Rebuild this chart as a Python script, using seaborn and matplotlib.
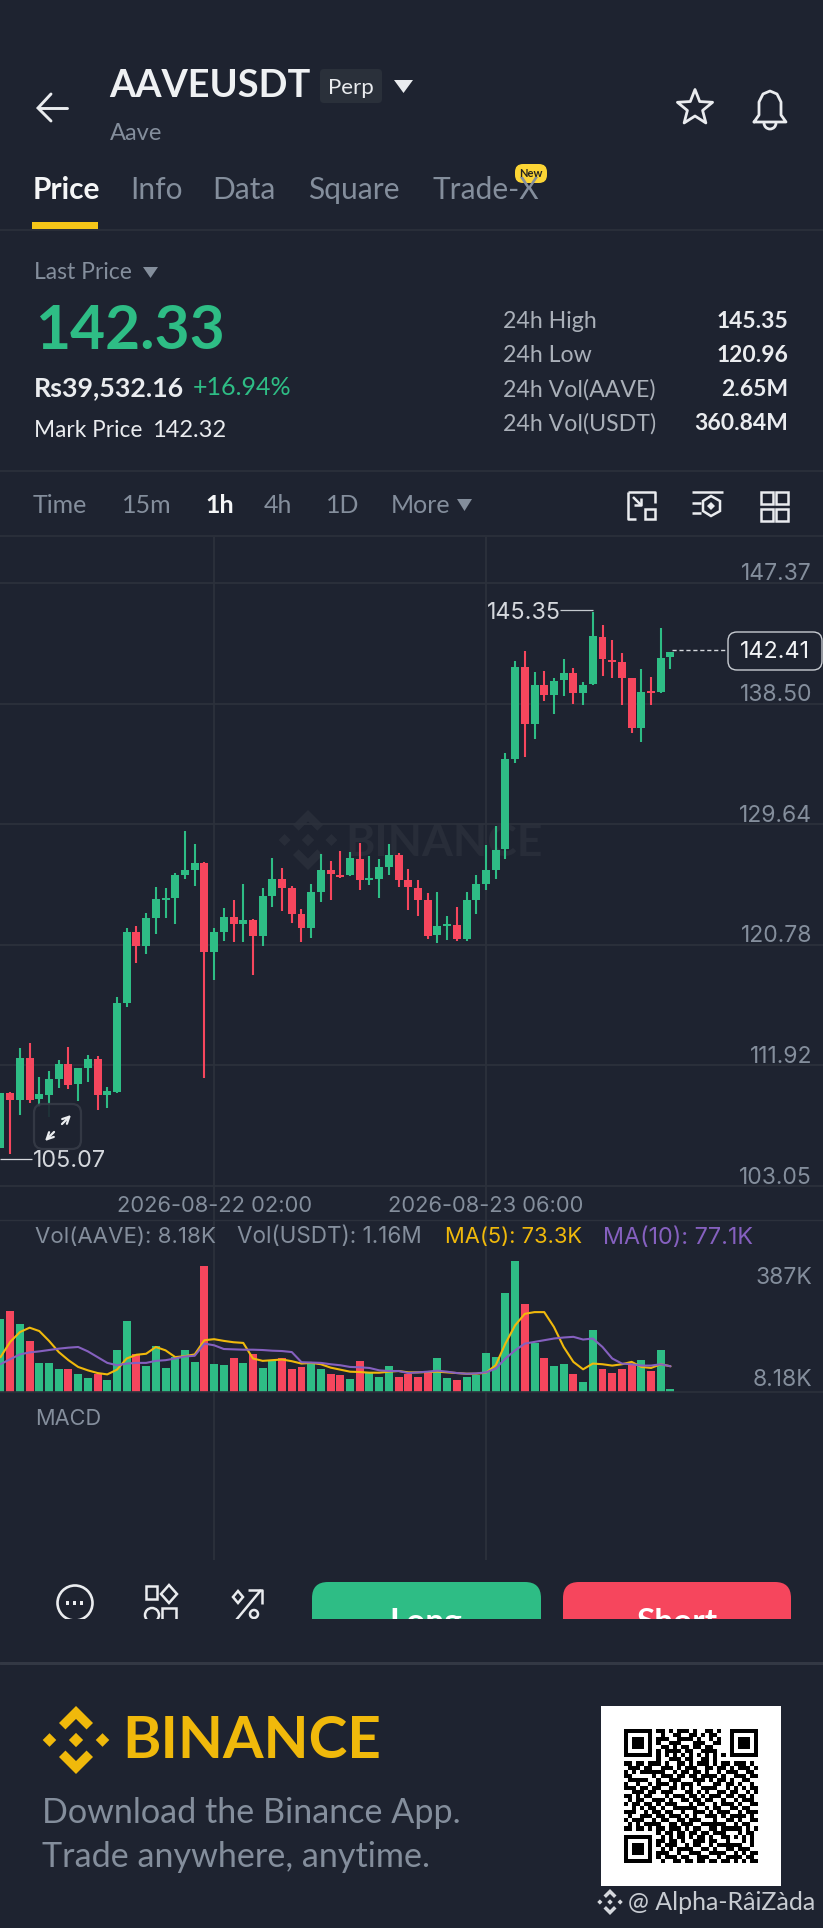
import numpy as np
import pandas as pd
import matplotlib
matplotlib.use("Agg")
import matplotlib.pyplot as plt
from matplotlib.patches import FancyBboxPatch, Polygon, Rectangle, Circle, Arc
from matplotlib.transforms import ScaledTranslation
import seaborn as sns

# ---------- data ----------
opens = [105.82,109.86,109.37,112.46,109.42,109.76,110.91,112.02,110.52,111.75,112.41,109.71,109.98,116.48,121.72,120.71,122.77,124.09,124.22,125.93,
         126.28,126.77,120.27,121.74,122.85,122.28,122.60,121.45,124.36,125.64,124.98,123.04,122.01,124.68,126.27,125.93,125.91,127.08,125.54,125.61,
         126.50,127.38,125.52,124.98,124.07,121.47,122.18,122.23,121.18,124.07,125.25,126.30,127.79,134.43,141.22,137.03,139.85,139.14,140.22,140.75,
         139.26,139.92,143.43,141.73,141.54,140.36,136.74,139.38,139.33,141.90]
closes = [109.86,109.37,112.46,109.37,109.79,110.89,112.02,110.47,111.70,112.41,109.74,110.03,116.48,121.72,120.69,122.75,124.12,124.24,125.91,126.28,
          126.77,120.27,121.72,122.85,122.31,122.60,121.45,124.34,125.61,124.93,123.04,122.01,124.68,126.27,125.96,125.74,127.13,125.54,125.69,126.47,
          127.38,125.54,125.00,124.07,121.45,122.16,122.31,121.18,124.07,125.25,126.30,127.75,134.43,141.22,137.03,139.85,139.14,140.19,140.75,139.26,
          139.87,143.45,141.78,141.59,140.36,136.74,139.38,139.26,141.88,142.30]
highs = [109.86,109.98,113.17,113.58,111.09,111.50,112.31,113.29,111.70,112.65,112.63,110.30,116.97,121.99,122.16,123.14,125.05,124.93,126.08,129.17,
         128.19,126.84,121.99,123.51,124.07,125.22,122.67,124.95,127.13,126.45,125.10,123.41,125.25,127.45,126.96,127.70,127.57,128.28,127.30,127.08,
         128.19,127.50,126.35,125.54,124.61,124.68,122.92,123.53,124.63,125.91,128.11,129.51,134.90,141.66,142.40,140.80,140.93,140.36,141.76,141.10,
         140.12,145.26,144.28,143.16,142.20,140.41,141.07,140.44,144.06,142.32]
lows = [105.82,105.40,108.27,109.17,108.83,108.15,110.28,110.15,109.30,110.67,108.63,108.81,109.86,116.23,119.46,120.08,121.55,122.77,122.31,125.59,
        125.12,110.96,118.17,121.08,120.98,121.01,118.56,120.69,123.58,123.29,122.36,120.96,121.25,123.92,124.07,125.66,125.83,124.81,125.17,124.19,
        125.88,125.00,123.31,122.92,121.23,120.93,121.13,121.08,121.08,123.04,124.81,125.59,127.11,134.14,134.58,135.90,138.72,137.72,139.04,138.50,
        138.43,139.85,140.53,140.36,138.43,136.34,135.68,138.40,139.31,141.05]
volume = [217,238,200,151,86,86,67,68,52,42,54,34,125,209,113,78,135,72,103,125,90,371,84,79,101,86,113,72,94,100,68,74,84,68,54,49,39,91,59,44,77,44,54,
          44,62,100,40,34,44,50,115,103,291,387,261,145,99,78,82,52,29,182,67,56,68,82,94,61,123,8.18]
ma5 = [103,148,177,190,180,151,118,94,74,64,56,52,66,99,110,113,133,123,103,106,111,153,156,151,147,145,99,92,94,96,91,84,86,82,72,66,60,59,57,57,60,62,58,
       58,59,60,58,56,54,54,57,79,143,197,231,236,236,192,133,89,67,84,82,78,82,89,74,71,82,76]
ma10 = [82,97,111,117,120,124,128,131,133,120,103,86,79,84,86,86,92,94,99,105,107,143,138,127,126,125,125,124,122,121,118,88,87,86,82,79,74,73,71,64,62,62,56,
        58,60,63,60,56,54,55,58,69,99,123,143,148,153,158,161,163,155,158,133,99,84,82,78,78,82,76]
price_ticks = [103.05, 111.92, 120.78, 129.64, 138.50, 147.37]
price_labels = ["103.05", "111.92", "120.78", "129.64", "138.50", "147.37"]
date_pos = [22, 50]
date_labels = ["2026-08-22 02:00", "2026-08-23 06:00"]
vol_ticks = [8.18, 387]
vol_labels = ["8.18K", "387K"]
LAST, HIGH, LOW = 142.41, 145.35, 105.07
stat_names = ["24h High", "24h Low", "24h Vol(AAVE)", "24h Vol(USDT)"]
stat_values = ["145.35", "120.96", "2.65M", "360.84M"]
tabs = ["Price", "Info", "Data", "Square", "Trade-X"]
intervals = ["Time", "15m", "1h", "4h", "1D", "More"]

QR_TOP = ["0110101110100110100", "0010011001101011000", "0111001111010010100", "0100111000111001100",
          "0011010110110110000", "0101111011001111000", "0101010101010101010"]
QR_MID = ["00000000100111011001101" + "0000000000",
 "110110111010011010111010110111010", "011101100111010111001101101011101", "101011111100101101101001011100110",
 "110000010111011011011110100111011", "011111001001110001110101101001100", "100100101110101110100011011010010",
 "111011011001101010011110010101011", "001110110111000110101001101100101", "110101100010111011010111011011010",
 "010110011101001101101100100101110", "101101101011100010110010111010011", "001010110100111111001011001101100",
 "111001011011001001110101110010111", "010011101101110101001110101111010", "101110010110011011100010011010011",
 "010101111001101110011111100101100", "110110101101110101100110111110101",
 "000000001011011011011011100010110"]
QR_BOT = ["0101011010110100110101010" , "1101101001110110010001010" + "", "1011100101100101111110010",
          "0101011110011010011011100", "1110010011100111100101011", "1011101100111001011110110",
          "0100110110110110110101011"]

BG = "#1e2330"
GREEN, RED = "#2ebd85", "#f6465d"
GREY = "#848e9c"
WHITE = "#eaecef"
GRID = "#2c313c"
YEL = "#f0b90b"
PURPLE = "#8560bf"
W, H = 823, 1928
STEP = 9.71
AXIS_FS = 16.5

sns.set_theme(style="dark")
plt.rcParams["font.family"] = ["Lato", "DejaVu Sans"]
plt.rcParams["axes.unicode_minus"] = False

fig = plt.figure(figsize=(W / 100, H / 100), dpi=100, facecolor=BG)

def band(top, bot):
    return [0, 1 - bot / H, 1, (bot - top) / H]

def nudge(tick, px):
    tick.label2.set_transform(tick.label2.get_transform() + ScaledTranslation(0, -px / 100, fig.dpi_scale_trans))

back = fig.add_axes([0, 0, 1, 1], zorder=0)
back.set_xlim(0, W); back.set_ylim(H, 0); back.axis("off")
ui = fig.add_axes([0, 0, 1, 1], zorder=10)
ui.set_xlim(0, W); ui.set_ylim(H, 0); ui.axis("off"); ui.patch.set_alpha(0)

xlim = (-0.05, W / STEP - 0.05)
PX_PER_PRICE = 13.606
ax = fig.add_axes(band(537, 1220), zorder=2)
ax.patch.set_alpha(0)
vol = fig.add_axes(band(1220, 1392), zorder=2)
vol.patch.set_alpha(0)
mac = fig.add_axes(band(1392, 1560), zorder=2)
mac.patch.set_alpha(0)

# ---------- candles ----------
df = pd.DataFrame({"i": np.arange(len(opens)), "o": opens, "c": closes, "h": highs, "l": lows,
                   "v": volume, "ma5": ma5, "ma10": ma10})
df["up"] = df.c >= df.o
df["bot"] = df[["o", "c"]].min(axis=1)
df["size"] = (df.c - df.o).abs().clip(lower=0.14)

for up, col in [(True, GREEN), (False, RED)]:
    d = df[df.up == up]
    ax.vlines(d.i, d.l, d.h, color=col, lw=1.5, zorder=3)
    sns.barplot(data=d, x="i", y="size", bottom=d["bot"].values, native_scale=True, color=col, saturation=1,
                width=0.82, errorbar=None, linewidth=0, ax=ax, zorder=4)
    sns.barplot(data=d, x="i", y="v", native_scale=True, color=col, saturation=1,
                width=0.82, errorbar=None, linewidth=0, ax=vol, zorder=2)

ax.set_xlim(*xlim)
ax.set_ylim(103.05 - 34 / PX_PER_PRICE, 103.05 + (1186 - 537) / PX_PER_PRICE)
ax.set_xlabel(""); ax.set_ylabel("")
ax.yaxis.tick_right()
ax.set_yticks(price_ticks); ax.set_yticklabels(price_labels, family=["Inter", "DejaVu Sans"], fontsize=AXIS_FS, color=GREY, ha="right", va="bottom")
ax.tick_params(axis="y", length=0, pad=-7.9, labelright=True, labelleft=False)
for tk in ax.yaxis.get_major_ticks():
    nudge(tk, 2.5)
ax.set_xticks(date_pos); ax.set_xticklabels(date_labels, family=["Inter", "DejaVu Sans"], fontsize=15.8, color=GREY)
ax.tick_params(axis="x", length=0, pad=-17.5)
ax.grid(True, color=GRID, lw=1.3, zorder=0)
ax.set_axisbelow(True)
for s in ax.spines.values():
    s.set_visible(False)
ax.spines["bottom"].set_visible(True); ax.spines["bottom"].set_color(GRID); ax.spines["bottom"].set_linewidth(1.0)

# markers on the price pane
lab = dict(color="#d5d8dd", fontsize=16.8, family=["Inter", "DejaVu Sans"], va="center_baseline", zorder=6)
ax.hlines(HIGH, 57.65, 61, color="#c5c9cf", lw=0.9, zorder=5)
ax.text(57.75, HIGH, f"{HIGH:.2f}", ha="right", **lab)
ax.hlines(LOW, -0.05, 3.25, color="#d5d8dd", lw=0.9, zorder=5)
ax.text(3.35, LOW, f"{LOW:.2f}", ha="left", **lab)
ax.hlines(LAST, 69.2, 75, color="#d5d8dd", lw=1.0, linestyles=(0, (3, 2)), zorder=5)

# ---------- volume ----------
sns.lineplot(data=df, x="i", y="ma5", color=YEL, lw=1.5, ax=vol, zorder=5)
sns.lineplot(data=df, x="i", y="ma10", color=PURPLE, lw=1.5, ax=vol, zorder=5)
vol.set_xlim(*xlim)
vol.set_ylim(0, (1392 - 1220) / (131 / 387))
vol.set_xlabel(""); vol.set_ylabel("")
vol.yaxis.tick_right()
vol.set_yticks(vol_ticks); vol.set_yticklabels(vol_labels, family=["Inter", "DejaVu Sans"], fontsize=AXIS_FS, color=GREY, ha="right")
vol.get_yticklabels()[0].set_va("bottom"); vol.get_yticklabels()[1].set_va("top")
vol.tick_params(axis="y", length=0, pad=-7.9, labelright=True, labelleft=False)
for tk, off in zip(vol.yaxis.get_major_ticks(), [1.5, 6.0]):
    tk.label2.set_va("bottom" if off < 3 else "top")
    nudge(tk, off)
vol.set_xticks(date_pos); vol.set_xticklabels([])
vol.tick_params(axis="x", length=0)
vol.grid(True, axis="x", color=GRID, lw=1.3); vol.set_axisbelow(True)
for s in vol.spines.values():
    s.set_visible(False)
vol.spines["bottom"].set_visible(True); vol.spines["bottom"].set_color(GRID); vol.spines["bottom"].set_linewidth(1.2)

mac.set_xlim(*xlim); mac.set_ylim(0, 1); mac.set_yticks([])
mac.set_xticks(date_pos); mac.set_xticklabels([]); mac.tick_params(axis="x", length=0)
mac.grid(True, axis="x", color=GRID, lw=1.3)
for s in mac.spines.values():
    s.set_visible(False)

def T(x, y, s, size=15, color=GREY, ha="left", weight="normal", fam=None, a=ui, **kw):
    return a.text(x, y + 0.09 * size, s, fontsize=size, color=color, ha=ha, va="center", weight=weight,
                  family=fam or ["Lato", "DejaVu Sans"], **kw)

INTER = ["Inter", "DejaVu Sans"]
T(35, 1236, "Vol(AAVE): 8.18K", 16, GREY, fam=INTER)
T(237, 1236, "Vol(USDT): 1.16M", 16.2, GREY, fam=INTER)
T(445, 1236, "MA(5): 73.3K", 15.8, YEL, fam=INTER)
T(603, 1236, "MA(10): 77.1K", 16.8, PURPLE, fam=INTER)
T(35, 1418, "MACD", 15.7, GREY, fam=INTER)

# price tag
ui.add_patch(FancyBboxPatch((730, 634), 90, 34, boxstyle="round,pad=2,rounding_size=9", fc=BG, ec="#c8ccd2", lw=1.0))
T(775, 650, f"{LAST:.2f}", 16.8, "#f2f3f5", ha="center", fam=INTER)

# expand button
ui.add_patch(FancyBboxPatch((36, 1106), 43, 41, boxstyle="round,pad=2,rounding_size=9", fc=BG, ec="#363b47", lw=1.6, alpha=0.9))
ui.annotate("", xy=(73, 1113), xytext=(60, 1126), arrowprops=dict(arrowstyle="->", color=WHITE, lw=1.6, mutation_scale=12))
ui.annotate("", xy=(43, 1143), xytext=(56, 1130), arrowprops=dict(arrowstyle="->", color=WHITE, lw=1.6, mutation_scale=12))

# ---------- logo ----------
def logo(a, cx, cy, R, col, **kw):
    chev = [(0, 1), (.5, .5), (.31, .31), (0, .62), (-.31, .31), (-.5, .5)]
    dia = lambda x0, r: [(x0 + r, 0), (x0, r), (x0 - r, 0), (x0, -r)]
    for pts in [chev, [(x, -y) for x, y in chev], dia(0, .21), dia(-.78, .2), dia(.78, .2)]:
        a.add_patch(Polygon([(cx + x * R, cy - y * R) for x, y in pts], closed=True, fc=col, ec="none", **kw))

logo(back, 308, 840, 30, "#282d39")
T(345, 840, "BINANCE", 32, "#282d39", weight="bold", a=back)

# ---------- header ----------
ui.plot([39, 67], [108, 108], color=WHITE, lw=2.1)
ui.plot([51, 38, 51], [94, 108, 121], color=WHITE, lw=2.1, solid_joinstyle="miter")
T(109, 84, "AAVEUSDT", 27.3, "#eff1f3", weight="bold")
ui.add_patch(FancyBboxPatch((322, 71), 58, 30, boxstyle="round,pad=2,rounding_size=4", fc="#2a303a", ec="none"))
T(351, 87, "Perp", 16, WHITE, ha="center")
ui.add_patch(Polygon([(394, 80), (413, 80), (403.5, 93)], fc=WHITE, ec="none"))
T(110, 132, "Aave", 17, GREY)
ang = np.deg2rad(90 + 36 * np.arange(10))
rad = np.where(np.arange(10) % 2 == 0, 18.5, 8)
ui.add_patch(Polygon(np.c_[695 + rad * np.cos(ang), 108 - rad * np.sin(ang)], closed=True, fc="none", ec=WHITE, lw=2, joinstyle="round"))
bell_x = [754, 759, 759, 763, 770, 777, 781, 781, 786, 754]
bell_y = [122, 115, 102, 94, 91, 94, 102, 115, 122, 122]
ui.plot(bell_x, bell_y, color=WHITE, lw=2, solid_joinstyle="round")
ui.add_patch(Arc((770, 123), 12, 12, theta1=0, theta2=180, ec=WHITE, lw=2))

tab_x = [33, 130, 212, 308, 433]
for i, (x, s) in enumerate(zip(tab_x, tabs)):
    T(x, 188, s, 21.5, "#f5f6f7" if i == 0 else GREY, weight="bold" if i == 0 else "normal")
ui.add_patch(FancyBboxPatch((517, 166), 28, 15, boxstyle="round,pad=2,rounding_size=8", fc="#fcd535", ec="none"))
T(531, 173, "New", 8, "#222222", ha="center", weight="bold")
ui.add_patch(Rectangle((32, 222), 66, 7, fc="#f5c518", ec="none"))
ui.plot([0, W], [229.5, 229.5], color=GRID, lw=1.2)

T(34, 271, "Last Price", 16.5, GREY)
ui.add_patch(Polygon([(143, 267), (158, 267), (150.5, 278)], fc=GREY, ec="none"))
T(35, 327, "142.33", 43.6, GREEN, weight="bold")
T(34, 386, "Rs39,532.16", 19.3, WHITE, weight="bold")
T(193, 386, "+16.94%", 18, GREEN)
T(34, 429, "Mark Price", 16.3, WHITE)
T(152, 429, "142.32", 17, WHITE)
for y, n, v in zip([320, 354, 388, 422], stat_names, stat_values):
    T(503, y, n, 16.7, "#aab0b9")
    T(788, y, v, 16.5, WHITE, ha="right", weight="bold")

ui.plot([0, W], [471, 471], color=GRID, lw=1.2)
ui.plot([0, W], [536, 536], color=GRID, lw=1.2)
for x, s in zip([33, 122, 205, 264, 326, 391], intervals):
    T(x, 504, s, 18, "#f5f6f7" if s == "1h" else GREY, weight="bold" if s == "1h" else "normal")
ui.add_patch(Polygon([(457, 499), (472, 499), (464.5, 511)], fc=GREY, ec="none"))

# toolbar icons
ic = dict(color=WHITE, lw=1.8, solid_capstyle="butt")
ui.plot([628, 655, 655], [492, 492, 503], **ic)
ui.plot([628, 628, 636], [492, 519, 519], **ic)
ui.add_patch(Rectangle((645, 509), 10, 10, fc="none", ec=WHITE, lw=1.8))
ui.plot([633, 641], [497, 505], **ic)
ui.plot([634, 641, 641], [505, 505, 498], **ic)
ui.plot([692, 723], [492, 492], **ic)
ui.plot([692, 701], [503, 503], **ic); ui.plot([692, 701], [513, 513], **ic)
ui.add_patch(Polygon([(711, 496), (720, 501), (720, 511), (711, 516), (703, 511), (703, 501)], fc="none", ec=WHITE, lw=1.8))
ui.add_patch(Polygon([(711, 502), (715, 506), (711, 510), (707, 506)], fc=WHITE, ec="none"))
for x in (761, 776):
    for y in (492, 509):
        ui.add_patch(Rectangle((x, y), 12, 12, fc="none", ec=WHITE, lw=1.8))

# ---------- bottom action bar (clipped) ----------
clip = Rectangle((0, 1500), W, 119, transform=ui.transData)
items = []
items.append(FancyBboxPatch((312, 1582), 229, 80, boxstyle="round,pad=0,rounding_size=16", fc=GREEN, ec="none"))
items.append(FancyBboxPatch((563, 1582), 228, 80, boxstyle="round,pad=0,rounding_size=16", fc=RED, ec="none"))
items.append(Circle((75, 1603), 17.5, fc="none", ec=WHITE, lw=1.9))
items.append(Rectangle((146, 1586), 11, 13, fc="none", ec=WHITE, lw=1.8))
items.append(Polygon([(169, 1585), (177, 1594), (169, 1603), (161, 1594)], fc="none", ec=WHITE, lw=1.8))
items.append(Circle((152, 1615), 7, fc="none", ec=WHITE, lw=1.8))
items.append(Rectangle((162, 1608), 14, 20, fc="none", ec=WHITE, lw=1.8))
items.append(Polygon([(238, 1591), (243, 1597), (238, 1603), (233, 1597)], fc="none", ec=WHITE, lw=1.8))
items.append(Circle((254, 1614), 4, fc="none", ec=WHITE, lw=1.8))
for p in items:
    ui.add_patch(p); p.set_clip_path(clip)
for xs, ys in [([232, 261], [1625, 1590]), ([248, 262, 262], [1590, 1590, 1604])]:
    l, = ui.plot(xs, ys, **ic); l.set_clip_path(clip)
for x in (68, 75, 82):
    ui.add_patch(Rectangle((x - 1.5, 1601), 3, 4, fc=WHITE, ec="none"))
for x, s in [(426, "Long"), (677, "Short")]:
    t = T(x, 1620, s, 24, "#ffffff", ha="center", weight="bold")
    t.set_clip_on(True)
    t.set_clip_path(clip)

ui.plot([0, W], [1662.5, 1662.5], color="#333844", lw=2.2)

# ---------- footer ----------
logo(ui, 76, 1740, 34, YEL)
T(122, 1738, "BINANCE", 42, YEL, weight="bold")
T(42.5, 1811, "Download the Binance App.", 24.6, GREY)
T(42.5, 1855, "Trade anywhere, anytime.", 24.6, GREY)
ui.add_patch(Rectangle((601, 1706), 180, 180, fc="white", ec="none"))

A, B, C = "1111111", "1000001", "1011101"
finder = [A, B, C, C, C, B, A]
qr_rows = [f + m + f for f, m in zip(finder, QR_TOP)] + QR_MID + [f + "0" + b for f, b in zip(finder, QR_BOT)]
qr = np.array([[int(ch) for ch in r[:33].ljust(33, "0")] for r in qr_rows])
ui.imshow(qr, cmap="gray_r", vmin=0, vmax=1, extent=(624, 758, 1863, 1729), interpolation="nearest", aspect="auto", zorder=3)
ui.set_xlim(0, W); ui.set_ylim(H, 0)

logo(ui, 610, 1902, 13, "#d5d8dd")
T(628, 1901, "@ Alpha-RâiZàda", 18, "#c8ccd2")

fig.savefig("out.png", dpi=100, facecolor=BG)
